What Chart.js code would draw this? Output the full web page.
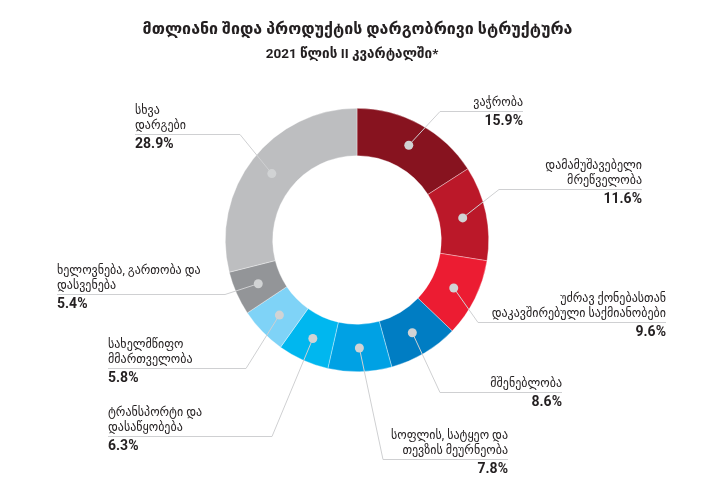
<!DOCTYPE html>
<html>
<head>
<meta charset="utf-8">
<script src="https://cdn.jsdelivr.net/npm/chart.js@4"></script>
<style>
  html, body { margin: 0; padding: 0; background: #fff; }
  #wrap { width: 709px; height: 489px; }
</style>
</head>
<body>
<div id="wrap"><canvas id="gdpChart"></canvas></div>
<script>
// დარგები (ზემოდან საათის ისრის მიმართულებით)
const categories = [
  ["ვაჭრობა"],
  ["დამამუშავებელი", "მრეწველობა"],
  ["უძრავ ქონებასთან", "დაკავშირებული საქმიანობები"],
  ["მშენებლობა"],
  ["სოფლის, სატყეო და", "თევზის მეურნეობა"],
  ["ტრანსპორტი და", "დასაწყობება"],
  ["სახელმწიფო", "მმართველობა"],
  ["ხელოვნება, გართობა და", "დასვენება"],
  ["სხვა", "დარგები"]
];
const shares = [15.9, 11.6, 9.6, 8.6, 7.8, 6.3, 5.8, 5.4, 28.9];
const colors = ["#87131f", "#bb1829", "#ec1c32", "#007dc3", "#00a1e4", "#00b7ef", "#7fd3f7", "#939598", "#bdbec0"];
const titleLines = ["მთლიანი შიდა პროდუქტის დარგობრივი სტრუქტურა", "2021 წლის II კვარტალში*"];

// ხაზის/ტექსტის განლაგება (x0-x1 ქვედა ხაზი, y მისი სიმაღლე)
const labelLayout = [
  { side: "right", x0: 440, x1: 523, y: 111 },
  { side: "right", x0: 499, x1: 642, y: 189 },
  { side: "right", x0: 478, x1: 666, y: 322 },
  { side: "right", x0: 440, x1: 562, y: 392 },
  { side: "right", x0: 383, x1: 508, y: 459 },
  { side: "left", x0: 108, x1: 272, y: 436 },
  { side: "left", x0: 108, x1: 246, y: 368 },
  { side: "left", x0: 57, x1: 225, y: 294 },
  { side: "left", x0: 135, x1: 240, y: 134 }
];
// სათაურის ხაზები: ცენტრი და შრიფტის ზომა
const titleLayout = [
  { x: 357.5, y: 30, size: 16 },
  { x: 352, y: 55, size: 13.5 }
];

const FONT = "Roboto, 'DejaVu Sans', sans-serif";

const chartTitle = {
  id: "chartTitle",
  afterDraw(chart) {
    const ctx = chart.ctx;
    ctx.save();
    ctx.fillStyle = "#231f20";
    ctx.textAlign = "center";
    ctx.textBaseline = "middle";
    titleLines.forEach((t, i) => {
      const lay = titleLayout[i];
      ctx.font = "bold " + lay.size + "px " + FONT;
      ctx.fillText(t, lay.x, lay.y);
    });
    ctx.restore();
  }
};

const leaderLabels = {
  id: "leaderLabels",
  afterDatasetsDraw(chart) {
    const ctx = chart.ctx;
    const meta = chart.getDatasetMeta(0);
    ctx.save();
    meta.data.forEach((arc, i) => {
      const p = arc.getProps(["x", "y", "startAngle", "endAngle", "innerRadius", "outerRadius"], true);
      const mid = (p.startAngle + p.endAngle) / 2;
      const r = (p.innerRadius + p.outerRadius) / 2;
      const dx = p.x + Math.cos(mid) * r;
      const dy = p.y + Math.sin(mid) * r;
      const lay = labelLayout[i];
      const elbowX = lay.side === "right" ? lay.x0 : lay.x1;
      const farX = lay.side === "right" ? lay.x1 : lay.x0;

      ctx.strokeStyle = "#cfd0d2";
      ctx.lineWidth = 1;
      ctx.beginPath();
      ctx.moveTo(dx, dy);
      ctx.lineTo(elbowX, lay.y + 0.5);
      ctx.lineTo(farX, lay.y + 0.5);
      ctx.stroke();

      ctx.fillStyle = "#d1d3d4";
      ctx.beginPath();
      ctx.arc(dx, dy, 4.5, 0, Math.PI * 2);
      ctx.fill();

      const tx = lay.side === "right" ? lay.x1 : lay.x0;
      ctx.textAlign = lay.side === "right" ? "right" : "left";
      ctx.textBaseline = "middle";
      ctx.fillStyle = "#231f20";
      ctx.font = "12px " + FONT;
      const lines = categories[i];
      lines.forEach((ln, k) => {
        ctx.fillText(ln, tx, lay.y - 8 - (lines.length - 1 - k) * 15);
      });
      ctx.font = "bold 14px " + FONT;
      ctx.fillText(shares[i].toFixed(1) + "%", tx, lay.y + 10);
    });
    ctx.restore();
  }
};

new Chart(document.getElementById("gdpChart"), {
  type: "doughnut",
  data: {
    labels: categories.map(c => c.join(" ")),
    datasets: [{
      data: shares,
      backgroundColor: colors,
      borderWidth: 0.6,
      borderColor: "rgba(255,255,255,0.6)"
    }]
  },
  options: {
    responsive: true,
    maintainAspectRatio: false,
    animation: false,
    cutout: "64%",
    layout: {
      padding: { top: 108, left: 225, right: 220, bottom: 117 }
    },
    plugins: {
      legend: { display: false },
      tooltip: { enabled: false },
      title: { display: false }
    }
  },
  plugins: [chartTitle, leaderLabels]
});
</script>
</body>
</html>
